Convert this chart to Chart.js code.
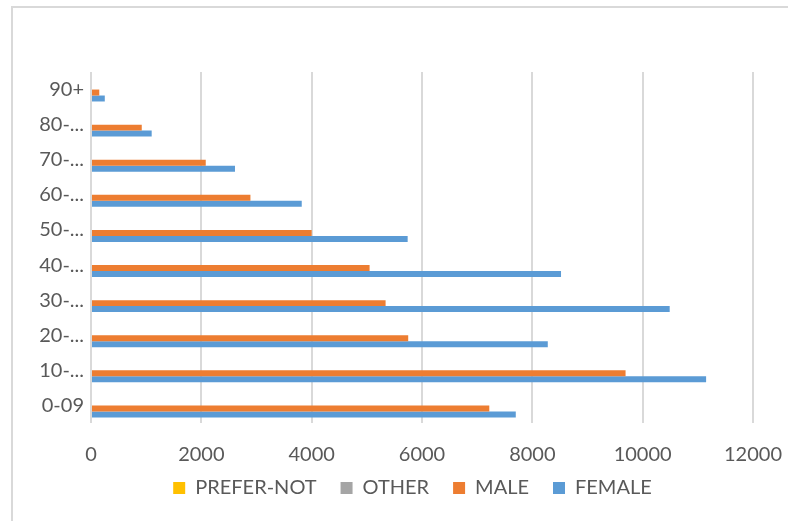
<!DOCTYPE html>
<html>
<head>
<meta charset="utf-8">
<script src="https://cdn.jsdelivr.net/npm/chart.js@4/dist/chart.umd.min.js"></script>
<style>
  html, body { margin: 0; padding: 0; background: #fff; }
  #wrap { width: 788px; height: 521px; position: relative; }
</style>
</head>
<body>
<div id="wrap"><canvas id="myChart"></canvas></div>
<script>
// age bands, youngest first (axis is reversed so 0-09 sits at the bottom)
var ageBands = ["0-09", "10-...", "20-...", "30-...", "40-...", "50-...", "60-...", "70-...", "80-...", "90+"];

var preferNot = [0, 0, 0, 0, 0, 0, 0, 0, 0, 0];
var other     = [0, 0, 0, 0, 0, 0, 0, 0, 0, 0];
var male      = [7220, 9690, 5750, 5340, 5050, 4000, 2890, 2080, 920, 150];
var female    = [7700, 11150, 8280, 10490, 8520, 5740, 3820, 2610, 1100, 250];

var xTicks = [0, 2000, 4000, 6000, 8000, 10000, 12000];

var grey = '#595959';
var fontFamily = 'Lato, "Open Sans", sans-serif';

// light frame around the whole chart
var framePlugin = {
  id: 'frame',
  beforeDraw: function (chart) {
    var ctx = chart.ctx;
    ctx.save();
    ctx.fillStyle = '#ffffff';
    ctx.fillRect(0, 0, chart.width, chart.height);
    ctx.strokeStyle = '#d9d9d9';
    ctx.lineWidth = 2;
    ctx.strokeRect(12, 7, chart.width + 20, chart.height + 20);
    ctx.restore();
  }
};

// nudge the legend row so it sits under the plot, a bit right of centre
var legendNudge = {
  id: 'legendNudge',
  afterLayout: function (chart) {
    var lg = chart.legend;
    var dx = 29;
    var dy = 454 - lg.top;
    lg.left += dx; lg.right += dx;
    lg.top += dy; lg.bottom += dy;
  }
};

var ctx = document.getElementById('myChart');
var chart = new Chart(ctx, {
  type: 'bar',
  plugins: [framePlugin, legendNudge],
  data: {
    labels: ageBands,
    datasets: [
      { label: 'PREFER-NOT', data: preferNot, backgroundColor: '#ffc000' },
      { label: 'OTHER', data: other, backgroundColor: '#a5a5a5' },
      { label: 'MALE', data: male, backgroundColor: '#ed7d31' },
      { label: 'FEMALE', data: female, backgroundColor: '#5b9bd5' }
    ]
  },
  options: {
    indexAxis: 'y',
    responsive: true,
    maintainAspectRatio: false,
    animation: false,
    categoryPercentage: 0.68,
    barPercentage: 1.0,
    layout: {
      padding: { top: 72, left: 14, right: 35, bottom: 2 }
    },
    scales: {
      x: {
        min: 0,
        max: 12000,
        afterBuildTicks: function (scale) {
          scale.ticks = xTicks.map(function (v) { return { value: v }; });
        },
        afterFit: function (scale) {
          scale.height = 42;
          scale.paddingLeft = 0;
          scale.paddingRight = 0;
        },
        grid: { color: '#d9d9d9', lineWidth: 2, drawTicks: false },
        border: { display: false },
        ticks: {
          padding: 22,
          color: grey,
          font: { family: fontFamily, size: 20, lineHeight: 1 },
          callback: function (value) { return String(value); }
        }
      },
      y: {
        reverse: true,
        afterFit: function (scale) {
          scale.width = 77;
          scale.paddingTop = 0;
          scale.paddingBottom = 0;
        },
        grid: { display: false, drawTicks: false },
        border: { display: false },
        ticks: {
          padding: 7,
          color: grey,
          font: { family: fontFamily, size: 20 }
        }
      }
    },
    plugins: {
      tooltip: { enabled: false },
      legend: {
        position: 'bottom',
        labels: {
          boxWidth: 12,
          boxHeight: 12,
          padding: 24,
          color: grey,
          font: { family: fontFamily, size: 20, lineHeight: 1 }
        }
      }
    }
  }
});
</script>
</body>
</html>
